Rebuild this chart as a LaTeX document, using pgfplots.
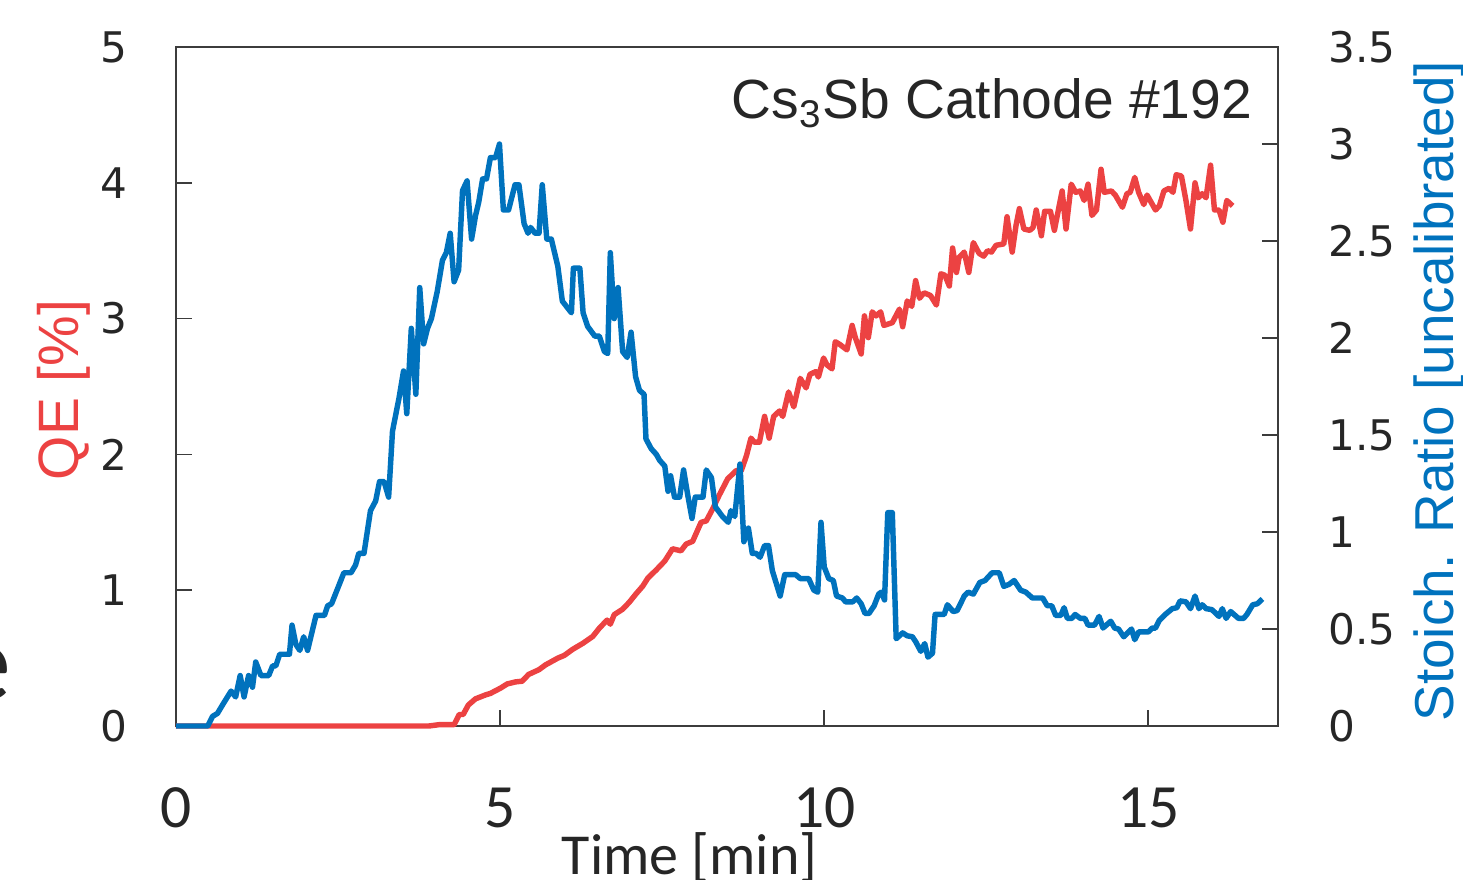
\documentclass[border=0pt]{standalone}
\usepackage{fontspec}
\setmainfont{Liberation Sans}
\newfontfamily\dejavu{DejaVu Sans}
\newfontfamily\carlito{Carlito}
\usepackage{pgfplots}
\pgfplotsset{compat=1.18}
\definecolor{qered}{RGB}{236,66,66}
\definecolor{stblue}{RGB}{0,114,189}
\definecolor{axgray}{RGB}{60,60,60}
\begin{document}
\begin{tikzpicture}
\useasboundingbox (-17.6mm,-15.3mm) rectangle (128.7mm,72.6mm);
\begin{axis}[
  at={(0,0)}, anchor=south west,
  scale only axis, width=110.2mm, height=67.9mm,
  xmin=0, xmax=17, ymin=0, ymax=5,
  xtick={0,5,10,15}, ytick={0,1,2,3,4,5},
  xtick pos=bottom, ytick pos=left, tick align=inside,
  major tick length=1.6mm,
  axis line style={axgray, line width=0.5pt},
  tick style={axgray, line width=0.5pt},
  clip=false,
  /pgf/number format/assume math mode=true,
  yticklabel style={font=\dejavu\fontsize{12}{14}\selectfont, anchor=east, inner sep=0pt, xshift=-4.8mm, text=black!85},
  xticklabel style={font=\carlito\fontsize{17.5}{20}\selectfont, anchor=north, inner sep=0pt, yshift=-6.1mm, text=black!85},
  xlabel={Time [min]},
  xlabel style={font=\carlito\fontsize{16.5}{19}\selectfont, at={(axis description cs:0.466,-0.218)}, anchor=base, inner sep=0pt, text=black!85},
  ylabel={QE [\%]},
  ylabel style={font=\fontsize{16.2}{19}\selectfont, text=qered, at={(axis description cs:-0.0889,0.495)}, anchor=base, inner sep=0pt},
]
\node[anchor=base east, font=\fontsize{15.7}{18}\selectfont, inner sep=0pt, text=black!85] at (axis description cs:0.977,0.895) {Cs\textsubscript{3}Sb Cathode \#192};
\addplot[qered, line width=1.55pt, line join=round] coordinates {
(0,0) (3.9,0) (4.06,0.01) (4.29,0.01) (4.37,0.085) (4.43,0.085) (4.51,0.155) (4.62,0.2) (4.78,0.23) (4.85,0.24)
(5.01,0.28) (5.11,0.31) (5.24,0.325) (5.34,0.33) (5.44,0.38) (5.60,0.415) (5.70,0.45)
(5.89,0.50) (5.99,0.52) (6.12,0.565) (6.28,0.61) (6.43,0.66) (6.53,0.72) (6.65,0.78) (6.70,0.75) (6.76,0.82)
(6.89,0.86) (6.99,0.91) (7.10,0.975) (7.20,1.03) (7.28,1.09) (7.41,1.15) (7.54,1.215) (7.66,1.305) (7.79,1.29)
(7.87,1.34) (7.97,1.36) (8.10,1.50) (8.18,1.51) (8.28,1.60) (8.38,1.70) (8.51,1.82) (8.64,1.88) (8.72,1.88)
(8.80,1.99) (8.87,2.12) (8.92,2.09) (9.00,2.09) (9.08,2.28) (9.15,2.12) (9.22,2.28) (9.31,2.32) (9.36,2.28)
(9.45,2.46) (9.53,2.35) (9.63,2.56) (9.72,2.49) (9.78,2.59) (9.87,2.61) (9.91,2.57) (9.99,2.71) (10.04,2.66)
(10.12,2.63) (10.17,2.83) (10.24,2.81) (10.35,2.77) (10.43,2.95) (10.48,2.86) (10.57,2.74) (10.62,3.02)
(10.68,2.86) (10.74,3.05) (10.80,3.02) (10.87,3.05) (10.92,2.95) (11.05,2.97) (11.16,3.07)
(11.21,2.94) (11.28,3.13) (11.35,3.09) (11.41,3.28) (11.47,3.15) (11.54,3.19) (11.64,3.17) (11.73,3.10)
(11.80,3.33) (11.86,3.32) (11.93,3.24) (11.98,3.52) (12.04,3.34) (12.08,3.45) (12.16,3.49) (12.23,3.34)
(12.30,3.56) (12.39,3.48) (12.46,3.46) (12.52,3.50) (12.58,3.49) (12.65,3.54) (12.77,3.55) (12.82,3.75)
(12.90,3.49) (12.96,3.69) (13.01,3.81) (13.08,3.66) (13.17,3.65) (13.22,3.67) (13.27,3.80) (13.35,3.61)
(13.40,3.79) (13.49,3.79) (13.55,3.65) (13.67,3.94) (13.73,3.66) (13.81,3.99) (13.88,3.93) (13.95,3.94)
(14.01,3.87) (14.07,3.99) (14.13,3.76) (14.20,3.80) (14.27,4.10) (14.32,3.93) (14.43,3.94) (14.49,3.91)
(14.60,3.82) (14.67,3.92) (14.72,3.93) (14.79,4.04) (14.85,3.93) (14.93,3.84) (14.98,3.91) (15.11,3.80)
(15.17,3.83) (15.24,3.94) (15.32,3.96) (15.38,3.93) (15.43,4.06) (15.51,4.05) (15.58,3.87) (15.65,3.66)
(15.72,4.00) (15.77,3.89) (15.83,3.92) (15.89,3.89) (15.96,4.13) (16.02,3.80) (16.09,3.80) (16.15,3.71)
(16.21,3.87) (16.30,3.83)
};
\end{axis}
\begin{axis}[
  at={(0,0)}, anchor=south west,
  scale only axis, width=110.2mm, height=67.9mm,
  xmin=0, xmax=17, ymin=0, ymax=3.5,
  axis x line=none, axis y line*=right,
  ytick={0,0.5,1,1.5,2,2.5,3,3.5},
  tick align=inside, major tick length=1.6mm,
  axis line style={axgray, line width=0.5pt},
  tick style={axgray, line width=0.5pt},
  clip=false,
  /pgf/number format/assume math mode=true,
  yticklabel style={font=\dejavu\fontsize{12}{14}\selectfont, anchor=west, inner sep=0pt, xshift=5mm, text=black!85},
  ylabel={Stoich. Ratio [uncalibrated]},
  ylabel style={font=\fontsize{15.6}{18}\selectfont, text=stblue, at={(axis description cs:1.1597,0.493)}, anchor=base, inner sep=0pt},
]
\addplot[stblue, line width=1.55pt, line join=round] coordinates {
(0,0) (0.49,0) (0.565,0.05) (0.64,0.065) (0.72,0.11) (0.85,0.18) (0.92,0.15) (0.99,0.26) (1.05,0.15) (1.12,0.26)
(1.18,0.20) (1.23,0.33) (1.31,0.26) (1.43,0.26) (1.49,0.31) (1.54,0.31) (1.60,0.37) (1.75,0.37) (1.79,0.52)
(1.85,0.42) (1.91,0.39) (1.97,0.46) (2.03,0.39) (2.16,0.57) (2.29,0.57) (2.34,0.62) (2.40,0.63) (2.59,0.79)
(2.70,0.79) (2.77,0.83) (2.82,0.89) (2.90,0.89) (3.00,1.11) (3.08,1.16) (3.14,1.26) (3.21,1.26) (3.28,1.18)
(3.34,1.52) (3.44,1.69) (3.51,1.83) (3.56,1.61) (3.63,2.05) (3.70,1.71) (3.76,2.26) (3.82,1.97) (3.88,2.05)
(3.94,2.10) (4.03,2.24) (4.11,2.40) (4.17,2.44) (4.23,2.54) (4.29,2.29) (4.36,2.35) (4.42,2.76) (4.49,2.81)
(4.56,2.51) (4.62,2.63) (4.67,2.70) (4.73,2.82) (4.79,2.82) (4.85,2.93) (4.93,2.93) (4.99,3.00) (5.05,2.66)
(5.13,2.66) (5.23,2.79) (5.29,2.79) (5.37,2.59) (5.43,2.54) (5.47,2.57) (5.54,2.54) (5.60,2.54) (5.65,2.79)
(5.72,2.51) (5.79,2.51) (5.89,2.37) (5.96,2.19) (6.10,2.13) (6.13,2.36) (6.23,2.36) (6.28,2.13) (6.35,2.06)
(6.46,2.01) (6.53,2.01) (6.61,1.93) (6.66,1.92) (6.70,2.44) (6.76,2.10) (6.82,2.26) (6.89,1.93) (6.96,1.90)
(7.02,2.03) (7.09,1.80) (7.15,1.73) (7.22,1.71) (7.25,1.48) (7.33,1.43) (7.41,1.40) (7.46,1.37) (7.54,1.34)
(7.59,1.21) (7.63,1.29) (7.69,1.18) (7.77,1.18) (7.83,1.32) (7.90,1.18) (7.96,1.07) (8.01,1.18) (8.13,1.18)
(8.18,1.32) (8.26,1.28) (8.32,1.13) (8.43,1.08) (8.52,1.05) (8.56,1.11) (8.62,1.08) (8.70,1.35) (8.76,0.95)
(8.83,1.02) (8.89,0.89) (8.95,0.89) (9.01,0.87) (9.08,0.93) (9.14,0.93) (9.20,0.80) (9.32,0.67) (9.39,0.78)
(9.56,0.78) (9.63,0.76) (9.76,0.76) (9.84,0.70) (9.90,0.69) (9.95,1.05) (10.00,0.82) (10.07,0.76) (10.14,0.75)
(10.19,0.67) (10.28,0.66) (10.33,0.64) (10.44,0.64) (10.50,0.66) (10.57,0.63) (10.63,0.58) (10.69,0.58)
(10.77,0.62) (10.84,0.68) (10.88,0.69) (10.93,0.65) (10.98,1.10) (11.05,1.10) (11.11,0.45) (11.21,0.48)
(11.28,0.465) (11.36,0.46) (11.41,0.435) (11.49,0.385) (11.55,0.425) (11.60,0.355) (11.67,0.375) (11.71,0.575)
(11.85,0.575) (11.90,0.625) (11.99,0.59) (12.05,0.595) (12.16,0.67) (12.22,0.69) (12.30,0.68) (12.40,0.74)
(12.48,0.75) (12.59,0.79) (12.70,0.79) (12.77,0.72) (12.85,0.73) (12.93,0.75) (13.03,0.70) (13.11,0.69)
(13.21,0.66) (13.37,0.66) (13.44,0.62) (13.51,0.62) (13.57,0.57) (13.65,0.57) (13.70,0.61) (13.75,0.555)
(13.82,0.555) (13.87,0.575) (13.95,0.555) (14.02,0.555) (14.07,0.52) (14.17,0.52) (14.24,0.565) (14.30,0.505)
(14.42,0.54) (14.48,0.505) (14.54,0.50) (14.62,0.46) (14.74,0.50) (14.79,0.445) (14.85,0.485) (15.00,0.485)
(15.06,0.505) (15.11,0.505) (15.17,0.545) (15.26,0.575) (15.37,0.605) (15.44,0.61) (15.49,0.645) (15.58,0.64)
(15.65,0.605) (15.72,0.67) (15.78,0.605) (15.83,0.625) (15.89,0.605) (15.98,0.60) (16.09,0.565) (16.14,0.605)
(16.20,0.555) (16.27,0.59) (16.39,0.555) (16.47,0.555) (16.52,0.575) (16.61,0.625) (16.68,0.63) (16.76,0.655)
};
\end{axis}
\node[anchor=base east, font=\carlito\fontsize{32}{36}\selectfont, inner sep=0pt, text=black!85] at (-16.4mm,2.6mm) {e};
\node[anchor=base east, font=\carlito\fontsize{32}{36}\selectfont, inner sep=0pt, text=black!85] at (-17.1mm,25.3mm) {.};
\end{tikzpicture}
\end{document}
